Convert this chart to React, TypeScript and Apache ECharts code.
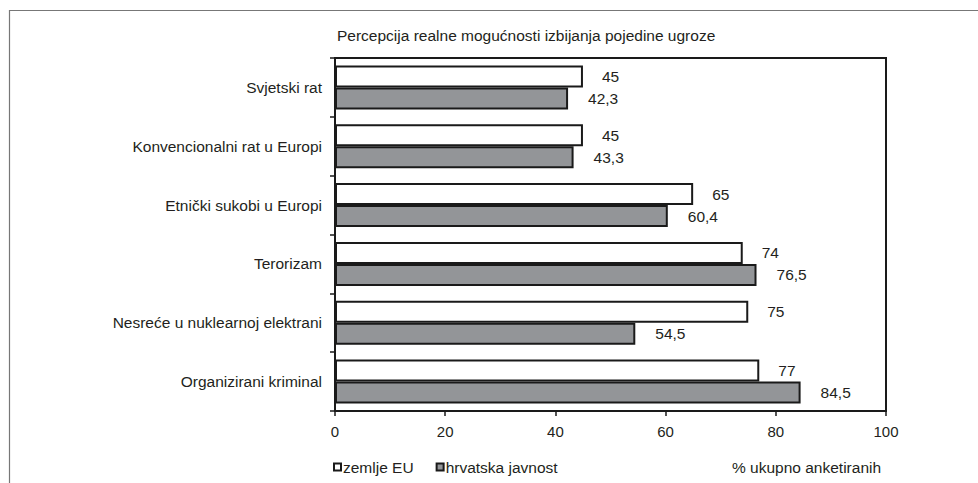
import React, { useEffect, useRef } from "react";
import * as echarts from "echarts";

const categories = [
  "Svjetski rat",
  "Konvencionalni rat u Europi",
  "Etnički sukobi u Europi",
  "Terorizam",
  "Nesreće u nuklearnoj elektrani",
  "Organizirani kriminal",
];
const euValues = [45, 45, 65, 74, 75, 77];
const hrValues = [42.3, 43.3, 60.4, 76.5, 54.5, 84.5];
const seriesNames = ["zemlje EU", "hrvatska javnost"];
const titleText = "Percepcija realne mogućnosti izbijanja pojedine ugroze";
const axisNameText = "% ukupno anketiranih";

const FONT = "'Liberation Sans', Arial, sans-serif";
const TXT = "#231f20";
const FS = 15.5;

export default function App() {
  const ref = useRef<HTMLDivElement>(null);
  useEffect(() => {
    if (!ref.current) return;
    const chart = echarts.init(ref.current, undefined, { renderer: "svg" });
    const fmt = (p: any) => String(p.value).replace(".", ",");
    chart.setOption({
      animation: false,
      backgroundColor: "#fff",
      textStyle: { fontFamily: FONT, color: TXT },
      title: [
        {
          text: titleText,
          left: 337,
          top: 27,
          padding: 0,
          textStyle: { fontSize: FS, fontWeight: "normal", color: TXT, fontFamily: FONT },
        },
        {
          text: axisNameText,
          left: 732,
          top: 459,
          padding: 0,
          textStyle: { fontSize: FS, fontWeight: "normal", color: TXT, fontFamily: FONT },
        },
      ],
      legend: {
        left: 333,
        top: 459,
        padding: 0,
        itemWidth: 7,
        itemHeight: 7,
        itemGap: 22,
        icon: "rect",
        textStyle: { fontSize: FS, color: TXT, fontFamily: FONT, padding: [0, 0, 0, -3] },
        data: seriesNames,
      },
      graphic: [
        {
          type: "polyline",
          silent: true,
          shape: { points: [[9.5, 483], [9.5, 10.5], [978, 10.5]] },
          style: { stroke: "#777", lineWidth: 1.2, fill: null },
        },
      ],
      grid: {
        left: 335,
        right: 92,
        top: 58,
        bottom: 72,
        show: true,
        borderColor: "#1a1a1a",
        borderWidth: 2,
        backgroundColor: "transparent",
      },
      xAxis: {
        type: "value",
        min: 0,
        max: 100,
        interval: 20,
        splitLine: { show: false },
        axisLine: { show: true, lineStyle: { color: "#1a1a1a", width: 2 } },
        axisTick: { show: true, length: 5, lineStyle: { color: "#1a1a1a", width: 1.5 } },
        axisLabel: { fontSize: 15, color: TXT, margin: 13, fontFamily: FONT },
      },
      yAxis: {
        type: "category",
        inverse: true,
        data: categories,
        axisLine: { show: true, lineStyle: { color: "#1a1a1a", width: 2 } },
        axisTick: { show: true, length: 5, lineStyle: { color: "#1a1a1a", width: 1.5 } },
        axisLabel: { fontSize: FS, color: TXT, margin: 13, fontFamily: FONT },
        splitLine: { show: false },
      },
      series: [
        {
          name: seriesNames[0],
          type: "bar",
          data: euValues,
          barWidth: 22,
          barGap: "0%",
          itemStyle: { color: "#ffffff", borderColor: "#1a1a1a", borderWidth: 2 },
          label: {
            show: true,
            position: "right",
            distance: 19,
            fontSize: FS,
            color: TXT,
            fontFamily: FONT,
            formatter: fmt,
          },
        },
        {
          name: seriesNames[1],
          type: "bar",
          data: hrValues,
          barWidth: 22,
          barGap: "0%",
          itemStyle: { color: "#939598", borderColor: "#1a1a1a", borderWidth: 2 },
          label: {
            show: true,
            position: "right",
            distance: 20,
            fontSize: FS,
            color: TXT,
            fontFamily: FONT,
            formatter: fmt,
          },
        },
      ],
    });
    return () => chart.dispose();
  }, []);
  return (
    <div
      ref={ref}
      style={{ position: "fixed", left: 0, top: 0, width: 978, height: 483 }}
    />
  );
}
